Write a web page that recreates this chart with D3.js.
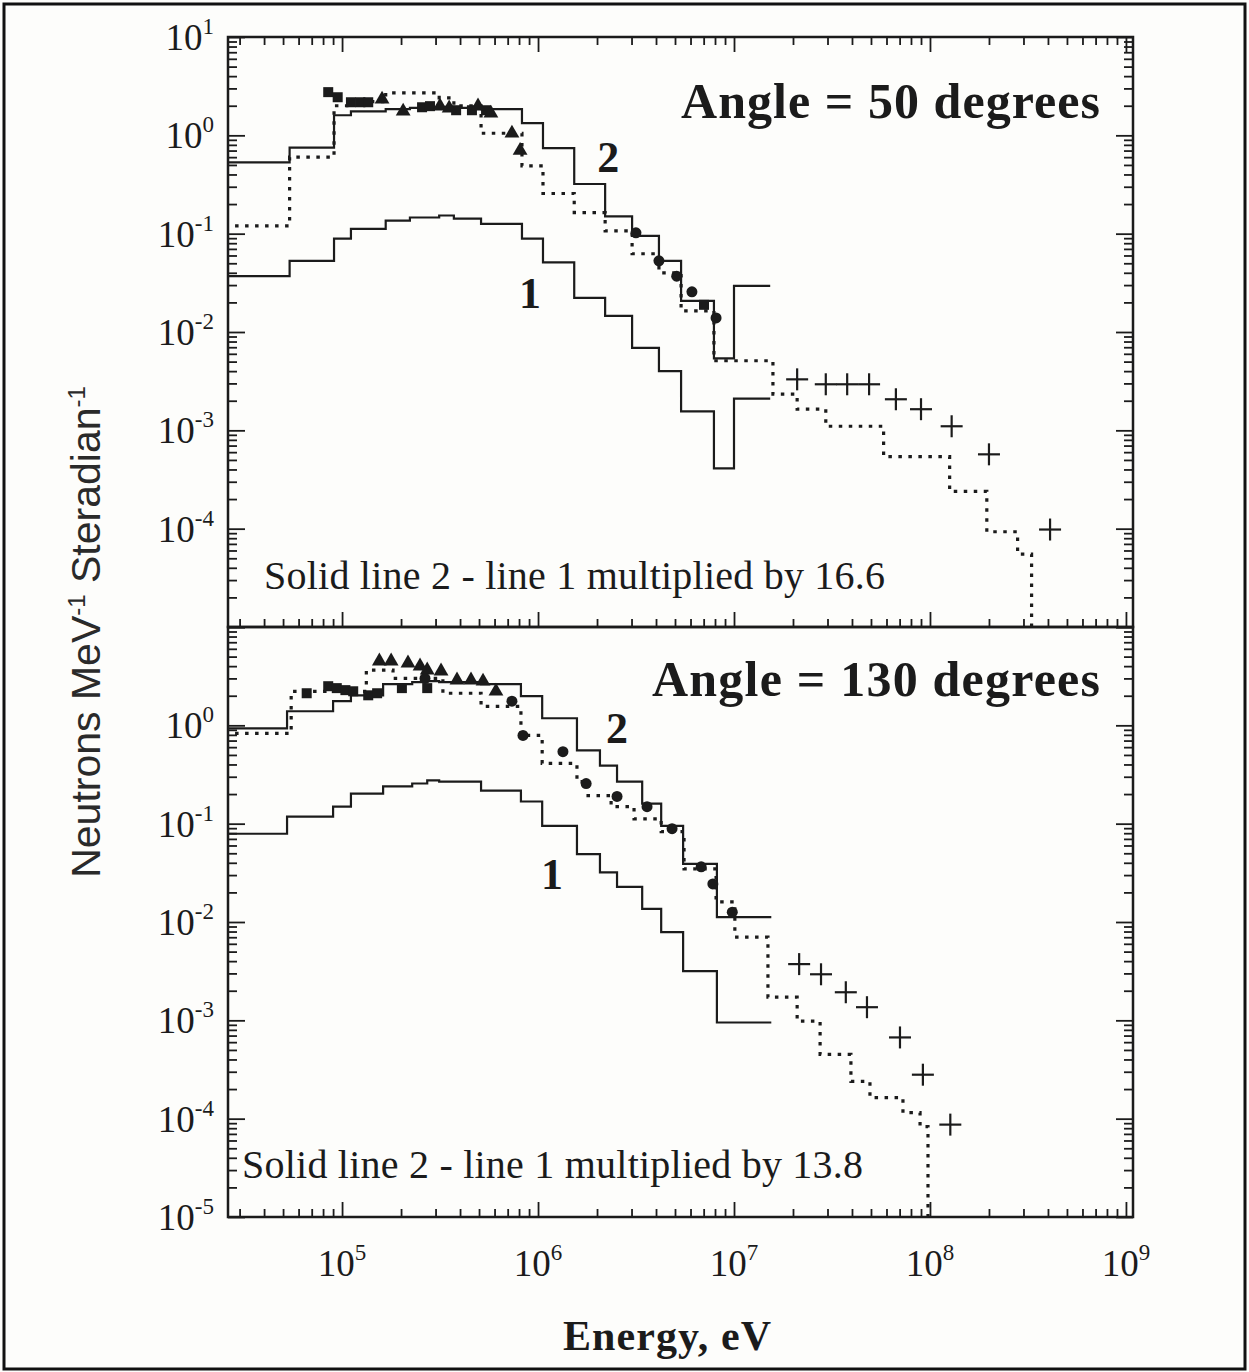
<!DOCTYPE html>
<html>
<head>
<meta charset="utf-8">
<title>Neutron spectra, 50 and 130 degrees</title>
<script src="https://cdn.jsdelivr.net/npm/d3@7/dist/d3.min.js"></script>
<style>
    body { margin: 0; background: #fdfdfb; }
    svg { display: block; }
</style>
</head>
<body>
<div id="container"></div>
<script>
// ---- values: energy in eV, yield in neutrons MeV^-1 sr^-1 ----

// Angle = 50 degrees
const edges50 = [2e4, 5.4e4, 9.1e4, 1.11e5, 1.67e5, 2.22e5, 3.13e5, 3.72e5, 5.12e5, 8.28e5,
    1.06e6, 1.53e6, 2.2e6, 3.02e6, 4.14e6, 5.37e6, 7.9e6, 1.0e7, 1.53e7];
const line1_50 = [0.037, 0.053, 0.089, 0.112, 0.136, 0.146, 0.153, 0.142, 0.126, 0.089,
    0.051, 0.0222, 0.0146, 0.0069, 0.0040, 0.00156, 0.00041, 0.0021];
const line2_50 = [0.53, 0.75, 1.6, 1.75, 1.85, 1.9, 1.95, 1.9, 1.85, 1.33,
    0.74, 0.32, 0.15, 0.095, 0.053, 0.0207, 0.0054, 0.0295];
const dotEdges50 = [2e4, 5.4e4, 9.1e4, 1.11e5, 1.67e5, 2.22e5, 3.13e5, 3.72e5, 5.12e5, 8.28e5,
    1.06e6, 1.53e6, 2.2e6, 3.02e6, 4.14e6, 5.37e6, 7.9e6, 1.58e7, 2.1e7, 2.94e7,
    5.8e7, 1.26e8, 1.95e8, 2.8e8, 3.3e8, 3.3e8];
const dot50 = [0.12, 0.6, 2.0, 2.2, 2.7, 2.7, 2.4, 2.0, 1.05, 0.49,
    0.256, 0.164, 0.107, 0.0625, 0.040, 0.0164, 0.0051, 0.00233, 0.00164, 0.0011,
    0.00054, 0.00024, 9.3e-5, 5.5e-5, 1e-7];
const squares50 = [[8.5e4, 2.75], [9.5e4, 2.44], [1.11e5, 2.17], [1.24e5, 2.17], [1.36e5, 2.17],
    [2.56e5, 1.93], [2.81e5, 1.98], [3.82e5, 1.8], [4.6e5, 1.8], [5.43e5, 1.8], [7.03e6, 0.0189]];
const triangles50 = [[1.6e5, 2.33], [2.05e5, 1.76], [3.16e5, 1.98], [3.52e5, 1.89], [4.94e5, 1.98],
    [5.75e5, 1.68], [7.36e5, 1.05], [8.1e5, 0.70]];
const circles50 = [[3.16e6, 0.102], [4.14e6, 0.053], [5.1e6, 0.037], [6.1e6, 0.0256], [8.1e6, 0.0139]];
const crosses50 = [[2.1e7, 0.0033], [2.94e7, 0.00294], [3.78e7, 0.00294], [4.89e7, 0.00294],
    [6.7e7, 0.00207], [9e7, 0.00164], [1.29e8, 0.0011], [2.0e8, 0.00057], [4.1e8, 9.8e-5]];

// Angle = 130 degrees
const edges130 = [2e4, 5.24e4, 9.0e4, 1.11e5, 1.62e5, 2.28e5, 2.72e5, 3.13e5, 5.12e5, 8.18e5,
    1.05e6, 1.58e6, 2.07e6, 2.53e6, 3.4e6, 4.25e6, 5.5e6, 8.18e6, 1.55e7];
const line1_130 = [0.079, 0.118, 0.149, 0.202, 0.239, 0.256, 0.275, 0.268, 0.217, 0.168,
    0.095, 0.049, 0.032, 0.0228, 0.0136, 0.0079, 0.00316, 0.00095];
const line2_130 = [0.93, 1.39, 1.76, 2.02, 2.62, 2.75, 2.81, 2.75, 2.62, 1.98,
    1.18, 0.556, 0.39, 0.268, 0.16, 0.095, 0.039, 0.0112];
const dotEdges130 = [2e4, 5.5e4, 1.33e5, 1.82e5, 3.27e5, 5.12e5, 8.18e5, 1.05e6, 1.58e6, 1.8e6,
    2.36e6, 3.09e6, 4.25e6, 5.56e6, 8.1e6, 1.01e7, 1.49e7, 2.1e7, 2.75e7, 3.95e7,
    4.94e7, 7.28e7, 8.9e7, 9.77e7, 9.77e7];
const dot130 = [0.83, 2.22, 3.64, 3.0, 2.12, 1.56, 0.79, 0.41, 0.268, 0.193,
    0.149, 0.112, 0.083, 0.0347, 0.016, 0.00703, 0.00172, 0.00098, 0.00045, 0.00024,
    0.000164, 0.000115, 8.3e-5, 1e-7];
const squares130 = [[6.6e4, 2.12], [8.5e4, 2.5], [9.4e4, 2.39], [1.04e5, 2.28], [1.14e5, 2.22],
    [1.36e5, 2.02], [1.51e5, 2.12], [2.02e5, 2.39], [2.72e5, 2.39]];
const triangles130 = [[1.55e5, 4.5], [1.78e5, 4.5], [2.17e5, 4.29], [2.5e5, 4.0], [2.72e5, 3.64],
    [3.2e5, 3.56], [3.86e5, 2.88], [4.55e5, 2.88], [5.24e5, 2.81], [6.1e5, 2.22]];
const circles130 = [[2.65e5, 3.0], [7.36e5, 1.76], [8.38e5, 0.79], [1.34e6, 0.54], [1.76e6, 0.256],
    [2.53e6, 0.189], [3.6e6, 0.149], [4.83e6, 0.089], [6.8e6, 0.0364], [7.8e6, 0.0244], [9.8e6, 0.0126]];
const crosses130 = [[2.15e7, 0.00373], [2.78e7, 0.00294], [3.72e7, 0.00193], [4.77e7, 0.00136],
    [7.03e7, 0.00067], [9.2e7, 0.00028], [1.27e8, 8.7e-5]];

// curve labels "1" and "2" (energy, value at baseline)
const curveLabels50 = [["2", 2.28e6, 0.42], ["1", 9.1e5, 0.0176]];
const curveLabels130 = [["2", 2.53e6, 0.655], ["1", 1.18e6, 0.0217]];

const xTickExp = [5, 6, 7, 8, 9];
const yTickExp50 = [1, 0, -1, -2, -3, -4];
const yTickExp130 = [0, -1, -2, -3, -4, -5];

// ---- layout ----
const width = 1249, height = 1372;
const plotLeft = 228, plotRight = 1133;
const panelH = 590;
const serif = "'Liberation Serif', 'Times New Roman', serif";
const sans = "'Liberation Sans', Arial, sans-serif";
const ink = "#1b1b1b";

const x = d3.scaleLog().domain([10 ** 4.418, 10 ** 9.036]).range([plotLeft, plotRight]);

function minorTicks(lo, hi, scale) {
    var out = [];
    var d = scale.domain();
    for (var k = lo; k <= hi; k++) {
        for (var m = 2; m <= 9; m++) {
            var v = m * Math.pow(10, k);
            if (v > d[0] && v < d[1]) out.push(v);
        }
    }
    return out;
}

function stepPoints(edges, vals) {
    var pts = [];
    vals.forEach((v, i) => {
        pts.push([edges[i], v]);
        pts.push([edges[i + 1], v]);
    });
    return pts;
}

const svg = d3.select("#container").append("svg")
    .attr("width", width)
    .attr("height", height)
    .attr("viewBox", [0, 0, width, height]);

svg.append("rect")
    .attr("x", 0).attr("y", 0).attr("width", width).attr("height", height)
    .attr("fill", "#fdfdfb");

// scan border
svg.append("rect")
    .attr("x", 4).attr("y", 4).attr("width", width - 8).attr("height", height - 7)
    .attr("fill", "none").attr("stroke", "#111").attr("stroke-width", 3);

const panels = [
    {
        id: "p50", top: 37, title: "Angle = 50 degrees", titleLen: 419, titleBase: 81,
        note: "Solid line 2 - line 1 multiplied by 16.6", noteX: 264, noteBase: 552,
        edges: edges50, line1: line1_50, line2: line2_50, dotEdges: dotEdges50, dot: dot50,
        squares: squares50, triangles: triangles50, circles: circles50, crosses: crosses50,
        labels: curveLabels50, yExp: yTickExp50, topAxis: true
    },
    {
        id: "p130", top: 627, title: "Angle = 130 degrees", titleLen: 448, titleBase: 69,
        note: "Solid line 2 - line 1 multiplied by 13.8", noteX: 242, noteBase: 551,
        edges: edges130, line1: line1_130, line2: line2_130, dotEdges: dotEdges130, dot: dot130,
        squares: squares130, triangles: triangles130, circles: circles130, crosses: crosses130,
        labels: curveLabels130, yExp: yTickExp130, topAxis: false
    }
];

panels.forEach(p => {
    const y = d3.scaleLog().domain([1e-5, 10]).range([p.top + panelH, p.top]);
    const g = svg.append("g").attr("id", p.id);

    g.append("clipPath").attr("id", "clip-" + p.id)
        .append("rect")
        .attr("x", plotLeft).attr("y", p.top)
        .attr("width", plotRight - plotLeft).attr("height", panelH);

    // inward ticks on the frame
    const majorY = p.yExp.concat(p.topAxis ? [-5] : [1]).map(e => Math.pow(10, e));
    const minorY = minorTicks(-6, 1, y);
    const majorX = [1e5, 1e6, 1e7, 1e8, 1e9];
    const minorX = minorTicks(4, 9, x);

    function tickAxis(axis, vals, size, transform) {
        g.append("g")
            .attr("transform", transform)
            .call(axis.tickValues(vals).tickSize(-size).tickFormat(""))
            .call(a => a.select(".domain").remove())
            .call(a => a.selectAll("line").attr("stroke", ink).attr("stroke-width", 1.8));
    }
    tickAxis(d3.axisLeft(y), majorY, 17, `translate(${plotLeft},0)`);
    tickAxis(d3.axisLeft(y), minorY, 9, `translate(${plotLeft},0)`);
    tickAxis(d3.axisRight(y), majorY, 17, `translate(${plotRight},0)`);
    tickAxis(d3.axisRight(y), minorY, 9, `translate(${plotRight},0)`);
    tickAxis(d3.axisBottom(x), majorX, 15, `translate(0,${p.top + panelH})`);
    tickAxis(d3.axisBottom(x), minorX, 8, `translate(0,${p.top + panelH})`);
    if (p.topAxis) {
        tickAxis(d3.axisTop(x), majorX, 15, `translate(0,${p.top})`);
        tickAxis(d3.axisTop(x), minorX, 8, `translate(0,${p.top})`);
    }

    g.append("rect")
        .attr("x", plotLeft).attr("y", p.top)
        .attr("width", plotRight - plotLeft).attr("height", panelH)
        .attr("fill", "none").attr("stroke", ink).attr("stroke-width", 2.5);

    // y tick labels
    g.selectAll(".ylab").data(p.yExp).join("text")
        .attr("class", "ylab")
        .attr("x", plotLeft - 14)
        .attr("y", d => y(Math.pow(10, d)) + 13)
        .attr("text-anchor", "end")
        .attr("font-family", serif).attr("font-size", 37).attr("fill", ink)
        .call(t => {
            t.append("tspan").text("10");
            t.append("tspan").attr("dy", -16).attr("font-size", 23).text(d => d);
        });

    const line = d3.line().x(d => x(d[0])).y(d => y(d[1]));
    const plot = g.append("g").attr("clip-path", `url(#clip-${p.id})`);

    plot.append("path")
        .attr("d", line(stepPoints(p.dotEdges, p.dot)))
        .attr("fill", "none").attr("stroke", ink)
        .attr("stroke-width", 3.2).attr("stroke-dasharray", "3.5 6.5");

    [p.line1, p.line2].forEach(vals => {
        plot.append("path")
            .attr("d", line(stepPoints(p.edges, vals)))
            .attr("fill", "none").attr("stroke", ink).attr("stroke-width", 2.2);
    });

    plot.selectAll(".sq").data(p.squares).join("rect")
        .attr("x", d => x(d[0]) - 5).attr("y", d => y(d[1]) - 5)
        .attr("width", 10).attr("height", 10).attr("fill", ink);

    plot.selectAll(".tri").data(p.triangles).join("path")
        .attr("d", d3.symbol(d3.symbolTriangle, 95))
        .attr("transform", d => `translate(${x(d[0])},${y(d[1])})`)
        .attr("fill", ink);

    plot.selectAll(".dot").data(p.circles).join("circle")
        .attr("cx", d => x(d[0])).attr("cy", d => y(d[1])).attr("r", 5.5)
        .attr("fill", ink);

    const cross = plot.selectAll(".cross").data(p.crosses).join("g")
        .attr("transform", d => `translate(${x(d[0])},${y(d[1])})`)
        .attr("stroke", ink).attr("stroke-width", 2.2);
    cross.append("line").attr("x1", -11).attr("x2", 11);
    cross.append("line").attr("y1", -11).attr("y2", 11);

    g.selectAll(".clab").data(p.labels).join("text")
        .attr("x", d => x(d[1])).attr("y", d => y(d[2]))
        .attr("text-anchor", "middle")
        .attr("font-family", serif).attr("font-weight", "bold").attr("font-size", 44)
        .attr("fill", ink)
        .text(d => d[0]);

    g.append("text")
        .attr("x", plotRight - 33).attr("y", p.top + p.titleBase)
        .attr("text-anchor", "end")
        .attr("font-family", serif).attr("font-weight", "bold").attr("font-size", 50)
        .attr("textLength", p.titleLen).attr("lengthAdjust", "spacing")
        .attr("fill", ink)
        .text(p.title);

    g.append("text")
        .attr("x", p.noteX).attr("y", p.top + p.noteBase)
        .attr("font-family", serif).attr("font-size", 40)
        .attr("textLength", 621).attr("lengthAdjust", "spacing")
        .attr("fill", ink)
        .text(p.note);
});

// x tick labels under the lower panel
const xBase = 627 + panelH;
svg.selectAll(".xlab").data(xTickExp).join("text")
    .attr("x", d => x(Math.pow(10, d)))
    .attr("y", xBase + 59)
    .attr("text-anchor", "middle")
    .attr("font-family", serif).attr("font-size", 37).attr("fill", ink)
    .call(t => {
        t.append("tspan").text("10");
        t.append("tspan").attr("dy", -16).attr("font-size", 23).text(d => d);
    });

svg.append("text")
    .attr("x", 667).attr("y", 1350)
    .attr("text-anchor", "middle")
    .attr("font-family", serif).attr("font-weight", "bold").attr("font-size", 42)
    .attr("textLength", 208).attr("lengthAdjust", "spacing")
    .attr("fill", ink)
    .text("Energy, eV");

// y axis title, rotated
const yTitle = svg.append("text")
    .attr("transform", "translate(100,632) rotate(-90)")
    .attr("text-anchor", "middle")
    .attr("font-family", sans).attr("font-size", 41)
    .attr("fill", "#2a2a2a");
yTitle.append("tspan").text("Neutrons MeV");
yTitle.append("tspan").attr("dy", -15).attr("font-size", 24).text("-1");
yTitle.append("tspan").attr("dy", 15).text(" Steradian");
yTitle.append("tspan").attr("dy", -15).attr("font-size", 24).text("-1");
</script>
</body>
</html>
